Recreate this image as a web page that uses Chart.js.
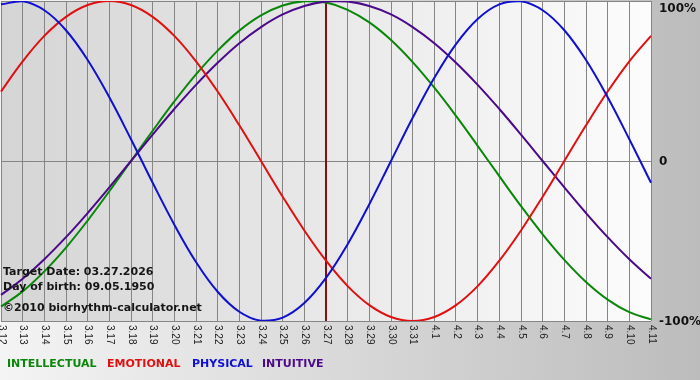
<!DOCTYPE html>
<html>
<head>
<meta charset="utf-8">
<script src="https://cdn.jsdelivr.net/npm/chart.js@4.4.1/dist/chart.umd.min.js"></script>
<style>
  body { margin: 0; background: #ffffff; }
  canvas { display: block; }
</style>
</head>
<body>
<canvas id="bioChart" width="700" height="380"></canvas>
<script>
const days = ['3.12', '3.13', '3.14', '3.15', '3.16', '3.17', '3.18', '3.19', '3.20', '3.21',
    '3.22', '3.23', '3.24', '3.25', '3.26', '3.27', '3.28', '3.29', '3.30', '3.31',
    '4.1', '4.2', '4.3', '4.4', '4.5', '4.6', '4.7', '4.8', '4.9', '4.10', '4.11'];

const intellectual = [-91.0, -81.5, -69.0, -54.1, -37.2, -18.9, 0, 18.9, 37.2, 54.1,
    69.0, 81.5, 91.0, 97.2, 99.9, 99.0, 94.5, 86.6, 75.6, 61.8,
    45.8, 28.2, 9.5, -9.5, -28.2, -45.8, -61.8, -75.6, -86.6, -94.5, -99.0];
const emotional = [43.4, 62.3, 78.2, 90.1, 97.5, 100, 97.5, 90.1, 78.2, 62.3,
    43.4, 22.3, 0, -22.3, -43.4, -62.3, -78.2, -90.1, -97.5, -100,
    -97.5, -90.1, -78.2, -62.3, -43.4, -22.3, 0, 22.3, 43.4, 62.3, 78.2];
const physical = [97.9, 99.8, 94.2, 81.7, 63.1, 39.8, 13.6, -13.6, -39.8, -63.1,
    -81.7, -94.2, -99.8, -97.9, -88.8, -73.1, -52.0, -27.0, 0, 27.0,
    52.0, 73.1, 88.8, 97.9, 99.8, 94.2, 81.7, 63.1, 39.8, 13.6, -13.6];
const intuitive = [-83.7, -73.6, -61.4, -47.6, -32.5, -16.5, 0, 16.5, 32.5, 47.6,
    61.4, 73.6, 83.7, 91.6, 96.9, 99.7, 99.7, 96.9, 91.6, 83.7,
    73.6, 61.4, 47.6, 32.5, 16.5, 0, -16.5, -32.5, -47.6, -61.4, -73.6];

const percentTicks = [100, 0, -100];
const percentLabels = ['100%', '0', '-100%'];
const targetIndex = 15;
const infoLines = ['Target Date: 03.27.2026', 'Day of birth: 09.05.1950', '\u00a92010 biorhythm-calculator.net'];
const legendNames = ['INTELLECTUAL', 'EMOTIONAL', 'PHYSICAL', 'INTUITIVE'];
const legendColors = ['#0a870a', '#e01010', '#1010d0', '#4b0a8a'];

const boldFont = 'bold 11px "DejaVu Sans", Verdana, sans-serif';

// backgrounds, target line, labels and legend text
const decorations = {
    id: 'decorations',
    beforeDraw(chart) {
        const { ctx, chartArea: a, width, height } = chart;
        ctx.save();
        let g = ctx.createLinearGradient(0, 0, width, 0);
        g.addColorStop(0, '#f4f4f4');
        g.addColorStop(1, '#bcbcbc');
        ctx.fillStyle = g;
        ctx.fillRect(0, 0, width, height);
        g = ctx.createLinearGradient(a.left, 0, a.right, 0);
        g.addColorStop(0, '#d5d5d5');
        g.addColorStop(1, '#fcfcfc');
        ctx.fillStyle = g;
        ctx.fillRect(a.left, a.top, a.right - a.left, a.bottom - a.top);
        ctx.restore();
    },
    beforeDatasetsDraw(chart) {
        const { ctx, chartArea: a, scales } = chart;
        const x = scales.x.getPixelForValue(targetIndex);
        ctx.save();
        ctx.strokeStyle = '#7c1414';
        ctx.lineWidth = 2;
        ctx.beginPath();
        ctx.moveTo(x, a.top);
        ctx.lineTo(x, a.bottom);
        ctx.stroke();
        ctx.restore();
    },
    afterDatasetsDraw(chart) {
        const { ctx, chartArea: a, scales } = chart;
        ctx.save();
        // info text inside the plot
        ctx.font = boldFont;
        ctx.fillStyle = '#151515';
        ctx.textAlign = 'left';
        ctx.textBaseline = 'alphabetic';
        ctx.fillText(infoLines[0], 3, 275);
        ctx.fillText(infoLines[1], 3, 290);
        ctx.fillText(infoLines[2], 3, 311);

        // rotated date labels
        ctx.font = '10px "Liberation Sans", Arial, sans-serif';
        ctx.fillStyle = '#222';
        ctx.textBaseline = 'middle';
        days.forEach((d, i) => {
            const x = scales.x.getPixelForValue(i);
            ctx.save();
            ctx.translate(x + 0.5, a.bottom + 4);
            ctx.rotate(Math.PI / 2);
            ctx.fillText(d, 0, 0);
            ctx.restore();
        });

        // percent labels on the right
        ctx.font = 'bold 12px "DejaVu Sans", Verdana, sans-serif';
        ctx.fillStyle = '#111';
        percentTicks.forEach((v, i) => {
            let y = scales.y.getPixelForValue(v);
            if (v === 100) y = 8;
            ctx.fillText(percentLabels[i], a.right + 8, y + 1);
        });

        // legend text
        ctx.font = boldFont;
        ctx.textBaseline = 'alphabetic';
        const legendX = [7, 107, 192, 262];
        legendNames.forEach((n, i) => {
            ctx.fillStyle = legendColors[i];
            ctx.fillText(n, legendX[i], 367);
        });
        ctx.restore();
    }
};

const lineSet = (data, color) => ({
    data: data,
    borderColor: color,
    borderWidth: 2,
    pointRadius: 0,
    tension: 0.4,
    fill: false
});

const ctx = document.getElementById('bioChart').getContext('2d');
new Chart(ctx, {
    type: 'line',
    data: {
        labels: days,
        datasets: [
            lineSet(physical, legendColors[2]),
            lineSet(emotional, legendColors[1]),
            lineSet(intuitive, legendColors[3]),
            lineSet(intellectual, legendColors[0])
        ]
    },
    options: {
        responsive: false,
        animation: false,
        devicePixelRatio: 1,
        layout: { padding: { left: 1, right: 49, top: 1, bottom: 59 } },
        plugins: {
            legend: { display: false },
            tooltip: { enabled: false }
        },
        scales: {
            x: {
                offset: false,
                ticks: { display: false },
                border: { display: false },
                grid: { color: '#858585', lineWidth: 1, drawTicks: false }
            },
            y: {
                min: -100,
                max: 100,
                ticks: { display: false, stepSize: 100 },
                border: { display: false },
                grid: { color: '#858585', lineWidth: 1, drawTicks: false }
            }
        }
    },
    plugins: [decorations]
});
</script>
</body>
</html>
